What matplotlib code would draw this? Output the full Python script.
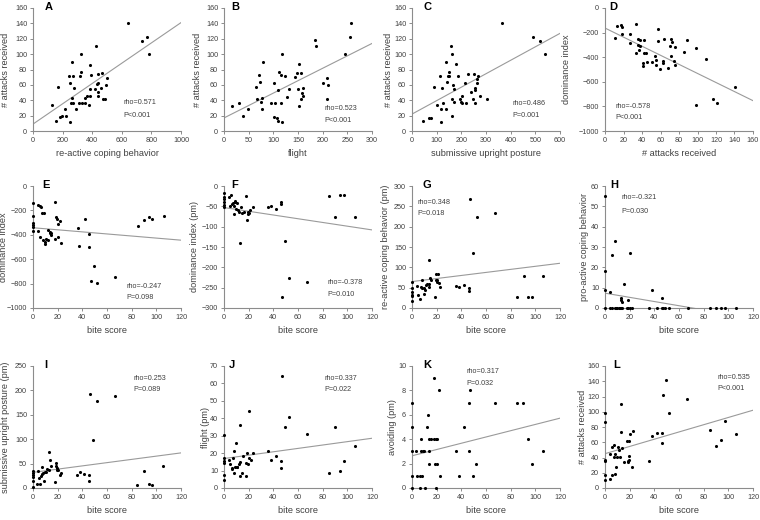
import matplotlib
matplotlib.use('Agg')
import matplotlib.pyplot as plt
import numpy as np

plt.rcParams['font.family'] = ['Liberation Sans', 'DejaVu Sans']

TEXT = '#404040'
AXIS = '#8c8c8c'

# ---- data ----
a_x = [640, 770, 738, 786, 325, 427, 266, 384, 246, 269, 323, 318, 395, 467, 442, 253, 275, 169, 499, 494,
       438, 433, 460, 442, 418, 386, 436, 470, 488, 368, 348, 382, 262, 255, 271, 312, 330, 352, 289, 214,
       131, 194, 183, 221, 158, 248, 379]
a_y = [141, 122, 117, 100, 100, 110, 90, 86, 72, 72, 77, 71, 73, 75, 74, 63, 56, 57, 69, 60,
       63, 61, 56, 51, 55, 54, 45, 42, 42, 46, 43, 45, 43, 37, 37, 36, 37, 37, 28, 29,
       34, 19, 18, 20, 13, 12, 34]

b_x = [257, 255, 185, 187, 245, 117, 80, 153, 71, 112, 115, 123, 144, 147, 157, 72, 102, 65, 201, 208,
       211, 208, 149, 158, 160, 161, 157, 131, 109, 127, 67, 78, 74, 96, 104, 115, 77, 48, 16, 31,
       39, 101, 107, 109, 117, 153]
b_y = [141, 122, 118, 110, 100, 100, 90, 87, 73, 77, 73, 71, 70, 76, 75, 64, 62, 57, 63, 69,
       60, 41, 55, 50, 56, 45, 42, 55, 53, 44, 41, 43, 38, 37, 37, 36, 28, 28, 33, 36,
       19, 18, 17, 13, 12, 33]

c_x = [363, 491, 517, 541, 157, 161, 138, 179, 149, 113, 145, 150, 143, 168, 213, 187, 172, 89, 120, 228,
       252, 266, 263, 263, 257, 256, 239, 246, 277, 304, 254, 220, 202, 196, 198, 202, 170, 161, 102, 124,
       119, 139, 161, 45, 68, 75, 117]
c_y = [141, 122, 117, 100, 110, 100, 90, 87, 77, 71, 71, 72, 64, 60, 63, 72, 55, 57, 56, 74,
       74, 72, 68, 62, 56, 53, 51, 41, 45, 42, 36, 37, 45, 42, 38, 36, 38, 42, 34, 36,
       28, 28, 19, 13, 17, 17, 12]

d_x = [11, 13, 17, 18, 18.5, 27.5, 27.5, 33.7, 35.5, 37.3, 35.8, 37.3, 36.6, 33.7, 42, 42.4, 41.6, 41.6,
       44.9, 44.5, 50.3, 54, 55, 55.5, 56.8, 56.8, 59, 62.6, 62.3, 63.3, 68.4, 70.6, 71.3, 72.8, 71.7,
       74.2, 75.3, 76, 85.4, 89, 98.8, 109.7, 98.8, 117, 121.6, 140.5]
d_y = [-245, -150, -136, -158, -212, -212, -285, -130, -255, -261, -299, -307, -340, -367, -261, -364,
       -448, -470, -443, -367, -443, -389, -421, -462, -272, -168, -495, -427, -448, -253, -489, -307,
       -250, -280, -389, -429, -465, -321, -361, -261, -323, -418, -785, -739, -772, -639]

e_x = [0, 0, 0, 0, 0, 0, 3.8, 5.5, 6.8, 7.6, 9, 4.1, 6, 8.2, 9.5, 10.1, 10.9, 12.5, 12.3, 13.4, 13.4,
       14.2, 14.7, 17.7, 18.8, 19.1, 19.9, 21.5, 22.9, 20.2, 18, 36.3, 37.6, 42.3, 45.8, 45.8, 46.9,
       49.1, 51.8, 66.5, 85.1, 89.7, 94.1, 96.8, 106.1]
e_y = [-137, -247, -301, -321, -334, -370, -156, -162, -170, -219, -219, -370, -416, -444, -458, -474,
       -438, -444, -364, -373, -389, -384, -400, -134, -255, -268, -315, -288, -466, -416, -438, -348,
       -493, -274, -395, -504, -778, -652, -792, -748, -329, -277, -258, -268, -249]

f_x = [0, 0, 0, 0, 0, 0, 4.1, 6, 4.6, 6.3, 7.4, 8.7, 9.3, 10.4, 8.2, 8.2, 9.8, 11.5, 12.3, 13.6, 14.7,
       16.1, 13.1, 18, 18.5, 19.1, 19.6, 20.5, 21.3, 23.2, 36, 38.5, 42.3, 46.4, 46.4, 47.2, 49.4, 52.4,
       67.4, 85.4, 90.3, 94.1, 97.4, 106.4]
f_y = [-16, -26, -33, -39, -46, -51, -28, -21, -48, -45, -43, -40, -36, -41, -49, -68, -57, -60, -63,
       -51, -67, -65, -141, -24, -84, -64, -68, -66, -59, -51, -51, -48, -56, -45, -39, -273, -136,
       -225, -235, -24, -77, -23, -23, -76]

g_x = [0, 0, 0, 0, 0, 0, 4.4, 4.9, 6.3, 7.4, 8.2, 8.5, 9.8, 9.5, 10.6, 11.7, 12.3, 13.4, 13.6, 13.4,
       14.5, 15.3, 18.5, 19.1, 20.7, 19.6, 20.5, 19.9, 21.8, 22.6, 35.7, 37.9, 42.5, 46.1, 46.1, 47.2,
       49.4, 52.4, 67.4, 85.4, 90.5, 94.1, 97.6, 106.4]
g_y = [63, 48, 40, 33, 29, 17, 55, 31, 23, 52, 69, 48, 48, 35, 45, 56, 60, 52, 58, 119, 75, 70,
       28, 84, 84, 68, 70, 65, 61, 52, 54, 52, 57, 50, 43, 269, 136, 224, 234, 27, 79, 26, 26, 78]

h_x = [0, 0, 0, 0, 4.1, 6, 8.2, 20.5, 15, 12.8, 13.1, 13.6, 19, 38.2, 46.1,
       4, 6, 8, 9, 10, 11, 12, 13, 14, 18, 19, 20, 22, 36, 42, 46, 47, 49, 52, 67, 85, 90, 94, 97, 106]
h_y = [55, 18, 9, 0, 8, 26, 33, 27, 12, 5, 4, 3, 4, 9, 5,
       0, 0, 0, 0, 0, 0, 0, 0, 0, 0, 0, 0, 0, 0, 0, 0, 0, 0, 0, 0, 0, 0, 0, 0, 0]

i_x = [0, 0, 0, 0, 0, 0, 3.8, 3.5, 5.7, 4.9, 6.3, 7.4, 7.4, 8.5, 9, 9.5, 10.9, 11.7, 12.8, 13.1, 13.6,
       14.7, 17.7, 18.8, 18.8, 19.4, 19.6, 20.5, 21.5, 22.9, 35.5, 38, 41.7, 45.5, 45.8, 46.6, 48.8,
       51.5, 66.5, 84.5, 89.7, 94.1, 96.8, 105.5]
i_y = [34, 31, 27, 22, 14, 2, 34, 9, 9, 20, 24, 43, 29, 31, 14, 33, 32, 39, 74, 37, 58, 45,
       12, 51, 46, 42, 37, 37, 27, 30, 27, 32, 29, 26, 14, 193, 99, 179, 189, 6, 35, 8, 6, 46]

j_x = [0, 0, 0, 0, 0, 0, 4.1, 4.6, 6.5, 6.8, 7.6, 8.5, 8.5, 9.3, 10.4, 10.1, 10.9, 12.3, 12.8, 13.1,
       13.1, 14.2, 15.3, 17.7, 18, 18.8, 19.1, 19.9, 20.2, 22.1, 23.2, 36, 38.2, 42.3, 46.1, 46.1,
       47.2, 49.1, 52.4, 67.1, 85.1, 90.3, 94.1, 97.4, 106.4]
j_y = [30.5, 17, 15.5, 14.6, 7.6, 4.5, 16, 13.7, 10.8, 11.6, 17, 21, 8.5, 12, 11.8, 26, 11.8, 13.7,
       36, 6.6, 15, 8.7, 18.4, 14.6, 6.6, 20, 13.7, 44, 17.5, 16.3, 20, 21, 16.3, 18.4, 15.4, 11.4,
       64, 35, 41, 31, 8.5, 35, 9.5, 15.4, 24]

k_x = [0, 0, 0, 0, 0, 3.5, 4.4, 6.3, 6.3, 7.6, 7.6, 8.2, 9, 9.8, 10.4, 12.3, 13.1, 13.4, 13.4, 13.9,
       15, 18, 18, 19.4, 20.5, 18.8, 20.5, 19.1, 21.8, 22.9, 36, 38.2, 42.3, 46.1, 46.1, 47.2, 49.1,
       52.1, 67.1, 85.4, 90.3, 94.1, 97.4, 106.4]
k_y = [7, 5, 3, 1, 0, 3, 1, 1, 0, 4, 3, 1, 3, 3, 0, 5, 6, 4, 3, 2, 4,
       9, 4, 4, 4, 2, 2, 0, 8, 1, 3, 1, 5, 7, 3, 8, 1, 2, 7, 7, 7, 4, 2, 3]

l_x = [0, 0, 0, 0, 0, 0, 4.1, 4.1, 6, 6, 7.6, 7.6, 8.2, 8.2, 8.7, 10.4, 9.5, 11.7, 12.3, 12.8, 13.1,
       13.6, 15, 17.7, 18.5, 18.8, 19.1, 19.1, 19.6, 19.9, 21.8, 22.9, 36, 38.2, 42.3, 46.1, 46.1,
       46.9, 49.1, 52.1, 66.8, 85.1, 90, 94.4, 97.4, 106.1]
l_y = [99, 86, 37, 35, 17, 11, 44, 12, 17, 54, 56, 41, 44, 18, 27, 54, 41, 50, 41, 110, 74, 53, 34,
       61, 34, 36, 37, 42, 62, 71, 27, 75, 36, 68, 72, 72, 59, 122, 141, 99, 117, 76, 55, 63, 88, 71]

# trend lines (intercept, slope) as drawn in the figure
fits = {'A': (9, 0.132), 'B': (17, 0.323), 'C': (22, 0.175), 'D': (-163, -3.69),
        'E': (-342, -0.85), 'F': (-53, -0.458), 'G': (65, 0.375), 'H': (7.3, -0.103),
        'I': (32, 0.333), 'J': (16.9, 0.097), 'K': (2.64, 0.0257), 'L': (45, 0.475)}

stats = {'A': ('rho=0.571', 'P<0.001'), 'B': ('rho=0.523', 'P<0.001'), 'C': ('rho=0.486', 'P=0.001'),
         'D': ('rho=-0.578', 'P<0.001'), 'E': ('rho=-0.247', 'P=0.098'), 'F': ('rho=-0.378', 'P=0.010'),
         'G': ('rho=0.348', 'P=0.018'), 'H': ('rho=-0.321', 'P=0.030'), 'I': ('rho=0.253', 'P=0.089'),
         'J': ('rho=0.337', 'P=0.022'), 'K': ('rho=0.317', 'P=0.032'), 'L': ('rho=0.535', 'P<0.001')}

xlabels = {'A': 're-active coping behavior', 'B': 'flight', 'C': 'submissive upright posture',
           'D': '# attacks received'}
ylabels = {'A': '# attacks received', 'B': '# attacks received', 'C': '# attacks received',
           'D': 'dominance index', 'E': 'dominance index', 'F': 'dominance index (pm)',
           'G': 're-active coping behavior (pm)', 'H': 'pro-active coping behavior',
           'I': 'submissive upright posture (pm)', 'J': 'flight (pm)', 'K': 'avoiding (pm)',
           'L': '# attacks received'}

xticks = {'A': np.arange(0, 1001, 200), 'B': np.arange(0, 301, 50), 'C': np.arange(0, 601, 100),
          'D': np.arange(0, 161, 20)}
yticks = {'A': np.arange(0, 161, 20), 'B': np.arange(0, 161, 20), 'C': np.arange(0, 161, 20),
          'D': np.arange(-1000, 1, 200), 'E': np.arange(-1000, 1, 200), 'F': np.arange(-300, 1, 50),
          'G': np.arange(0, 301, 50), 'H': np.arange(0, 61, 10), 'I': np.arange(0, 251, 50),
          'J': np.arange(0, 71, 10), 'K': np.arange(0, 11, 2), 'L': np.arange(0, 161, 20)}

series = {'A': (a_x, a_y), 'B': (b_x, b_y), 'C': (c_x, c_y), 'D': (d_x, d_y),
          'E': (e_x, e_y), 'F': (f_x, f_y), 'G': (g_x, g_y), 'H': (h_x, h_y),
          'I': (i_x, i_y), 'J': (j_x, j_y), 'K': (k_x, k_y), 'L': (l_x, l_y)}

# ---- layout (pixels in a 760x520 canvas) ----
W, H = 760, 520
col_left = [33, 224, 412, 605]
row_top = [8, 186, 366]
row_bot = [131, 308, 488]
ax_w = 148

# per panel: letter x, stat text (x, y1, y2), ylabel x   -- axes fractions
place = {'A': (0.08, (0.614, 0.234, 0.13), -0.185), 'B': (0.05, (0.68, 0.18, 0.084), -0.18),
         'C': (0.075, (0.677, 0.226, 0.122), -0.16), 'D': (0.03, (0.068, 0.198, 0.111), -0.26),
         'E': (0.06, (0.63, 0.175, 0.085), -0.197), 'F': (0.05, (0.70, 0.21, 0.112), -0.197),
         'G': (0.07, (0.039, 0.866, 0.772), -0.177), 'H': (0.035, (0.109, 0.907, 0.79), -0.14),
         'I': (0.075, (0.68, 0.90, 0.804), -0.186), 'J': (0.035, (0.68, 0.90, 0.805), -0.125),
         'K': (0.075, (0.37, 0.954, 0.853), -0.13), 'L': (0.055, (0.76, 0.907, 0.812), -0.15)}

fig = plt.figure(figsize=(W / 100, H / 100), dpi=100)

for n, letter in enumerate('ABCDEFGHIJKL'):
    r, c = divmod(n, 4)
    left = col_left[c] / W
    bottom = 1 - row_bot[r] / H
    height = (row_bot[r] - row_top[r]) / H
    ax = fig.add_axes([left, bottom, ax_w / W, height])

    x, y = series[letter]
    xt = xticks.get(letter, np.arange(0, 121, 20))
    yt = yticks[letter]
    ax.set_xlim(xt[0], xt[-1])
    ax.set_ylim(yt[0], yt[-1])
    ax.set_xticks(xt)
    ax.set_yticks(yt)

    b0, b1 = fits[letter]
    xs = np.array([xt[0], xt[-1]])
    ax.plot(xs, b0 + b1 * xs, color='#9a9a9a', lw=0.8, zorder=2)
    ax.scatter(x, y, s=5, color='black', linewidths=0, zorder=3, clip_on=False)

    for side in ('top', 'right'):
        ax.spines[side].set_visible(False)
    for side in ('left', 'bottom'):
        ax.spines[side].set_color(AXIS)
        ax.spines[side].set_linewidth(0.8)
    ax.tick_params(length=2.2, width=0.7, color=AXIS, labelsize=5.2, labelcolor=TEXT, pad=2)

    ax.set_xlabel(xlabels.get(letter, 'bite score'), fontsize=6.6, color=TEXT)
    ax.set_ylabel(ylabels[letter], fontsize=6.6, color=TEXT)
    ax.xaxis.label.set_va('center')
    ax.yaxis.label.set_va('center')
    lx, (sx, sy1, sy2), ylx = place[letter]
    ax.xaxis.set_label_coords(0.5, -0.185)
    ax.yaxis.set_label_coords(ylx, 0.5)

    ax.text(lx, 1.01, letter, transform=ax.transAxes, fontsize=8, fontweight='bold',
            color='black', ha='left', va='center')
    ax.text(sx, sy1, stats[letter][0], transform=ax.transAxes, fontsize=5.2, color=TEXT,
            ha='left', va='center')
    ax.text(sx, sy2, stats[letter][1], transform=ax.transAxes, fontsize=5.2, color=TEXT,
            ha='left', va='center')

fig.savefig('out.png', dpi=100)
